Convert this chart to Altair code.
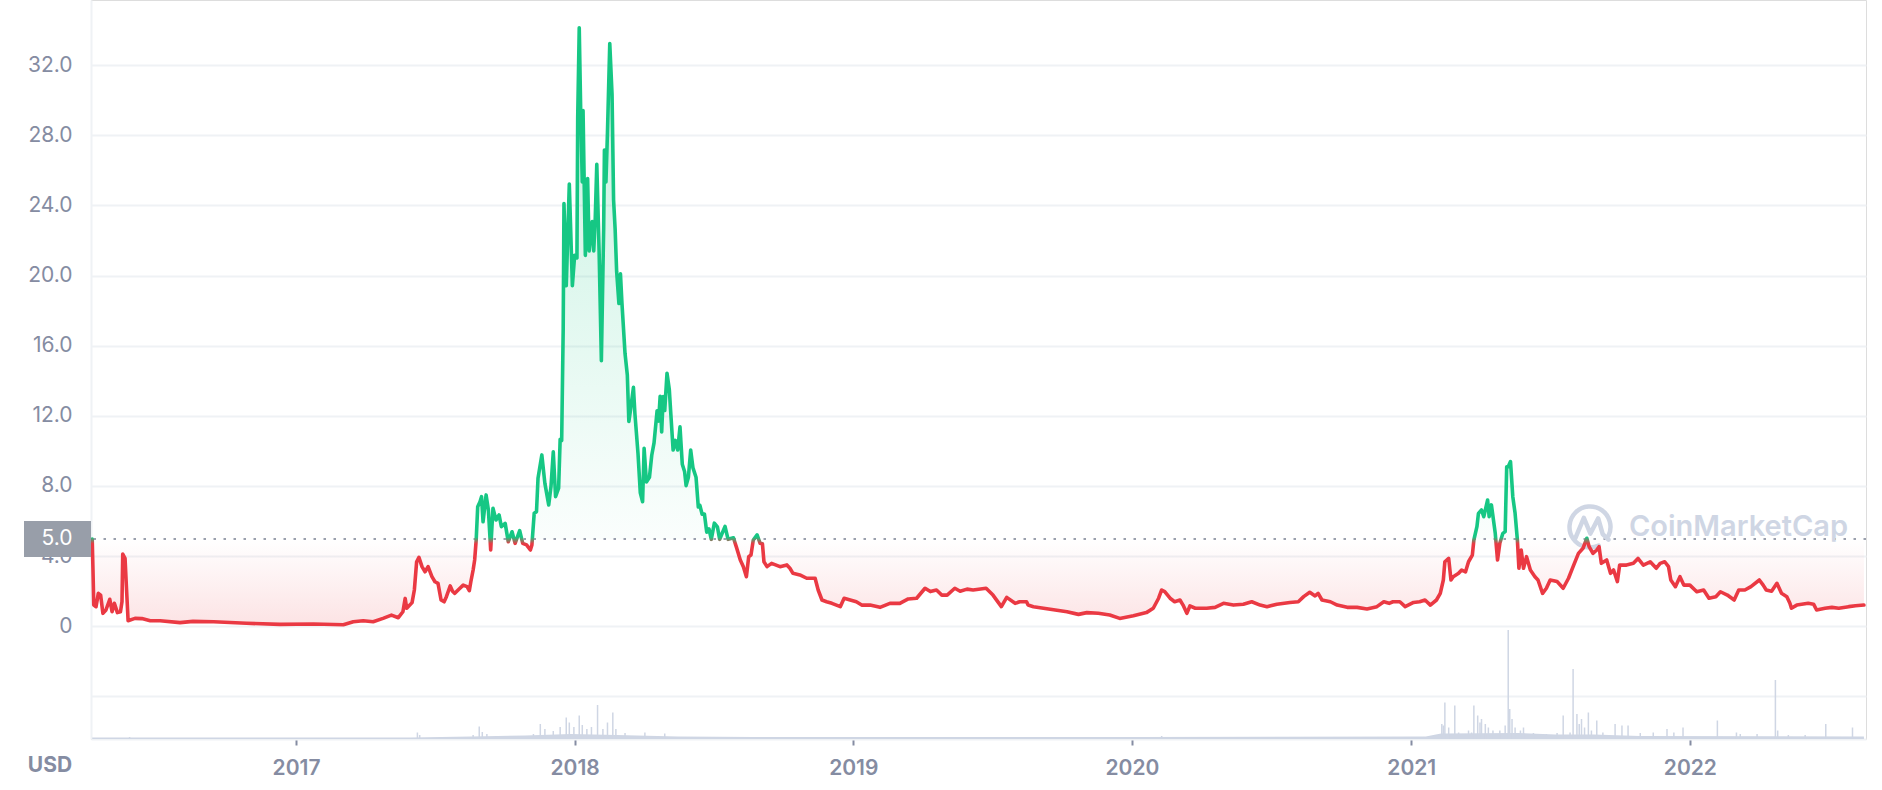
import altair as alt
import pandas as pd

# ---------------- data ----------------
# day offsets relative to 2017-01-01 (negative = 2016)
PRICE_DAYS = [
    -267, -266, -265, -262, -259, -256, -253, -249, -244, -241, -238, -234, -230, -228, -227, -224, -222, -220,
    -211, -202, -191, -178, -152, -135, -108, -65, -21, 23, 62, 75, 88, 101, 114, 125, 134, 140, 143, 145,
    152, 155, 158, 161, 165, 169, 173, 178, 182, 186, 190, 194, 197, 202, 205, 208, 213, 219, 224, 227, 229,
    232, 234, 236, 238, 241, 243, 245, 249, 252, 255, 258, 262, 266, 269, 274, 278, 283, 287, 293, 297, 302,
    307, 309, 312, 315, 317, 322, 326, 331, 334, 337, 340, 344, 346, 348, 350, 351, 354, 358, 362, 365, 368,
    369, 371, 373, 375, 376, 379, 382, 384, 388, 390, 392, 394, 397, 400, 403, 404, 406, 408, 411, 414, 416,
    418, 420, 423, 425, 427, 431, 434, 436, 438, 442, 444, 448, 451, 454, 456, 459, 463, 466, 469, 473, 475,
    477, 479, 481, 483, 486, 489, 491, 494, 497, 500, 503, 506, 509, 511, 514, 517, 520, 524, 527, 529, 532,
    535, 538, 541, 544, 548, 552, 555, 562, 566, 573, 577, 582, 586, 590, 593, 596, 599, 604, 608, 611, 613,
    617, 623, 634, 643, 647, 651, 660, 669, 680, 684, 689, 695, 702, 713, 718, 726, 734, 741, 752, 765, 778,
    791, 802, 813, 824, 831, 839, 846, 853, 863, 870, 879, 887, 904, 913, 924, 931, 942, 948, 957, 959, 966,
    988, 1010, 1025, 1036, 1051, 1066, 1079, 1097, 1114, 1123, 1130, 1134, 1138, 1145, 1151, 1158, 1162,
    1167, 1171, 1178, 1193, 1204, 1215, 1228, 1241, 1252, 1263, 1272, 1285, 1302, 1313, 1320, 1328, 1335,
    1339, 1344, 1355, 1364, 1377, 1390, 1403, 1416, 1425, 1432, 1437, 1446, 1453, 1464, 1472, 1479, 1486,
    1494, 1499, 1503, 1505, 1510, 1513, 1516, 1523, 1527, 1532, 1536, 1541, 1543, 1547, 1549, 1553, 1556,
    1561, 1563, 1566, 1571, 1574, 1577, 1581, 1584, 1586, 1588, 1591, 1594, 1597, 1600, 1602, 1605, 1608,
    1612, 1617, 1623, 1627, 1633, 1638, 1643, 1652, 1660, 1667, 1673, 1680, 1686, 1691, 1694, 1699, 1704,
    1707, 1710, 1717, 1722, 1726, 1731, 1734, 1743, 1752, 1758, 1765, 1774, 1782, 1787, 1793, 1798, 1801,
    1807, 1813, 1818, 1826, 1835, 1844, 1851, 1860, 1866, 1875, 1884, 1890, 1898, 1906, 1917, 1922, 1926,
    1933, 1940, 1946, 1953, 1957, 1959, 1966, 1981, 1988, 1992, 2003, 2012, 2021, 2034, 2043, 2054,
]
PRICE_VALUES = [
    4.98, 3.21, 1.21, 1.12, 1.88, 1.78, 0.74, 0.93, 1.54, 0.83, 1.31, 0.78, 0.83, 1.40, 4.12, 3.88, 2.07, 0.32,
    0.45, 0.44, 0.32, 0.32, 0.21, 0.28, 0.26, 0.17, 0.11, 0.13, 0.09, 0.26, 0.32, 0.26, 0.45, 0.64, 0.49, 0.83, 1.59, 1.03,
    1.35, 2.07, 3.68, 3.93, 3.40, 3.11, 3.40, 2.83, 2.54, 2.45, 1.50, 1.40, 1.69, 2.30, 2.00, 1.88, 2.10, 2.35, 2.26, 2.03, 2.54,
    3.21, 3.78, 4.92, 6.82, 7.10, 7.39, 5.96, 7.49, 6.63, 4.35, 6.73, 6.06, 6.35, 5.68, 5.87, 4.82, 5.39, 4.73, 5.45, 4.73, 4.64,
    4.35, 4.64, 6.44, 6.53, 8.44, 9.77, 8.15, 6.92, 7.97, 9.95, 7.39, 7.88, 10.66, 10.60, 16.97, 24.10, 19.42, 25.22, 19.42, 21.15, 21.00,
    28.99, 34.12, 29.19, 25.33, 29.40, 21.15, 25.53, 21.40, 23.08, 21.40, 23.30, 26.34, 21.45, 15.14, 22.67, 27.15, 25.33, 28.18, 33.22, 30.31, 24.30,
    22.67, 20.23, 18.40, 20.10, 18.40, 15.55, 14.33, 11.68, 12.27, 13.62, 12.09, 9.85, 7.61, 7.10, 10.15, 8.23, 8.50, 9.75, 10.46, 12.29, 11.70,
    13.11, 11.08, 13.10, 12.30, 14.43, 13.50, 12.10, 10.05, 10.60, 10.05, 11.37, 9.24, 8.83, 8.02, 8.50, 10.05, 9.03, 8.50, 6.80, 6.90, 6.39,
    6.40, 5.37, 5.55, 4.96, 5.88, 5.67, 4.96, 5.70, 4.96, 5.05, 4.50, 3.78, 3.40, 2.83, 3.97, 4.06, 4.92, 5.21, 4.73, 4.70, 3.68,
    3.40, 3.59, 3.40, 3.50, 3.31, 3.02, 2.93, 2.74, 2.74, 2.07, 1.50, 1.40, 1.31, 1.12, 1.60, 1.50, 1.40, 1.21, 1.21, 1.08, 1.31,
    1.31, 1.56, 1.60, 2.17, 1.98, 2.07, 1.78, 1.78, 2.17, 2.00, 2.12, 2.07, 2.17, 1.78, 1.12, 1.65, 1.31, 1.40, 1.40, 1.21, 1.12,
    0.97, 0.83, 0.68, 0.78, 0.74, 0.64, 0.45, 0.60, 0.78, 1.03, 1.60, 2.07, 1.98, 1.60, 1.40, 1.50, 1.21,
    0.74, 1.16, 1.03, 1.03, 1.08, 1.31, 1.21, 1.26, 1.40, 1.21, 1.12, 1.26, 1.36, 1.40, 1.69, 1.94, 1.73,
    1.88, 1.50, 1.40, 1.21, 1.08, 1.08, 0.99, 1.12, 1.40, 1.31, 1.40, 1.40, 1.12, 1.36, 1.40, 1.50, 1.21,
    1.50, 1.88, 2.64, 3.68, 3.87, 2.64, 2.83, 3.02, 3.21, 3.10, 3.68, 4.06, 4.92, 5.68, 6.44, 6.63, 6.25,
    7.20, 6.25, 6.92, 5.30, 3.78, 4.73, 5.30, 5.40, 9.10, 9.10, 9.39, 7.39, 6.44, 4.92, 3.31, 4.35, 3.31,
    3.97, 3.21, 2.83, 2.64, 1.88, 2.17, 2.64, 2.55, 2.17, 2.74, 3.40, 4.16, 4.45, 5.02, 4.54, 4.16, 4.35,
    4.54, 3.59, 3.78, 3.02, 3.21, 2.55, 3.49, 3.49, 3.59, 3.87, 3.49, 3.68, 3.31, 3.59, 3.68, 3.40, 2.64,
    2.26, 2.83, 2.35, 2.35, 1.97, 2.07, 1.60, 1.69, 1.97, 1.78, 1.50, 2.07, 2.07, 2.26, 2.64, 2.35, 2.07,
    2.00, 2.45, 1.88, 1.69, 1.31, 1.03, 1.21, 1.31, 1.26, 0.93, 1.03, 1.08, 1.03, 1.12, 1.17, 1.21,
]

# traded volume spikes (million USD) and the low background volume level
VOL_DAYS = [
    -218, 159, 162, 232, 240, 244, 250, 291, 311, 320, 326, 337, 346, 354, 358, 364, 371, 375, 381, 387,
    395, 402, 408, 415, 419, 431, 457, 483, 1134, 1501, 1503, 1505, 1510, 1518, 1523, 1536, 1540, 1543,
    1548, 1551, 1553, 1558, 1562, 1568, 1577, 1584, 1588, 1590, 1593, 1597, 1604, 1608, 1621, 1638, 1652,
    1660, 1669, 1673, 1678, 1681, 1684, 1688, 1693, 1697, 1704, 1712, 1728, 1737, 1745, 1761, 1778, 1796,
    1805, 1817, 1862, 1887, 1892, 1914, 1938, 1941, 1955, 1977, 2004, 2039,
]
VOL_VALUES = [
    4, 13, 8, 8, 25, 14, 10, 6, 10, 30, 20, 16, 24, 43, 33, 24, 47, 28, 20, 24,
    68, 20, 33, 53, 20, 12, 13, 11, 6, 30, 27, 73, 23, 67, 13, 17, 13, 67,
    47, 33, 40, 30, 23, 17, 17, 27, 218, 60, 40, 23, 17, 23, 12, 10, 12,
    47, 13, 140, 50, 30, 40, 23, 53, 17, 37, 13, 30, 27, 27, 12, 13, 20,
    13, 23, 37, 13, 10, 10, 118, 17, 8, 8, 30, 23,
]
VOL_FLOOR_DAYS = [-267, 150, 230, 300, 360, 420, 500, 600, 800, 1100, 1480, 1500, 1600, 1650, 1700, 1760, 2054]
VOL_FLOOR_VALUES = [3, 3, 5, 7, 10, 8, 5, 4, 4, 4, 5, 11, 12, 9, 9, 6, 5]

YEARS = [2017, 2018, 2019, 2020, 2021, 2022]
Y_TICKS = [-4, 0, 4, 8, 12, 16, 20, 24, 28, 32]
X_DOMAIN_DAYS = [-268.6, 2056.7]
Y_DOMAIN = [-6.425, 35.707]
VOL_DOMAIN = [0, 1478]

# ---------------- styles ----------------
GREEN = "#16c784"
RED = "#ea3943"
GREY = "#858ca2"
GRID = "#eff2f5"
VOLC = "#cfd6e4"
FONT = "Inter"

BASE = pd.Timestamp("2017-01-01", tz="UTC")


def ms(d):
    return int((BASE + pd.Timedelta(days=d)).timestamp() * 1000)


THRESHOLD = PRICE_VALUES[0]

price_df = pd.DataFrame({"t": [ms(d) for d in PRICE_DAYS], "price": PRICE_VALUES})
vol_df = pd.DataFrame({"t": [ms(d) for d in VOL_DAYS], "vol": VOL_VALUES})
floor_df = pd.DataFrame({"t": [ms(d) for d in VOL_FLOOR_DAYS], "vol": VOL_FLOOR_VALUES})
one = pd.DataFrame({"k": [0]})

x_axis = alt.Axis(
    values=[alt.DateTime(year=y, month=1, date=1, utc=True) for y in YEARS],
    labelExpr="utcFormat(datum.value, '%Y')",
    grid=False, domainColor=GRID, domainWidth=2,
    tickColor=GREY, tickSize=6, tickWidth=2,
    labelFont=FONT, labelFontSize=21, labelFontWeight=600, labelColor=GREY,
    labelPadding=12, title=None,
)
x_scale = alt.Scale(type="utc", domain=[ms(X_DOMAIN_DAYS[0]), ms(X_DOMAIN_DAYS[1])])
X = alt.X("t:T", scale=x_scale, axis=x_axis)

y_axis = alt.Axis(
    values=Y_TICKS, orient="left",
    labelExpr="datum.value < 0 ? '' : (datum.value == 0 ? '0' : format(datum.value, '.1f'))",
    grid=True, gridColor=GRID, gridWidth=2,
    domain=True, domainColor=GRID, domainWidth=2, ticks=False,
    labelFont=FONT, labelFontSize=21, labelColor=GREY, labelPadding=19, title=None,
)
y_scale = alt.Scale(domain=Y_DOMAIN, nice=False, zero=False)


def Y(field):
    return alt.Y(field, scale=y_scale, axis=y_axis)


# ---------------- volume ----------------
v_scale = alt.Scale(domain=VOL_DOMAIN, nice=False)
floor = alt.Chart(floor_df).mark_area(color=VOLC).encode(
    x=X, y=alt.Y("vol:Q", scale=v_scale, axis=None)
)
spikes = alt.Chart(vol_df).mark_rule(color=VOLC, strokeWidth=1.5).encode(
    x=X, y=alt.Y("vol:Q", scale=v_scale, axis=None), y2=alt.datum(0)
)
volume = alt.layer(floor, spikes)

# ---------------- price ----------------
pmax, pmin = max(PRICE_VALUES), min(PRICE_VALUES)
f = (pmax - THRESHOLD) / (pmax - pmin)

green_fill = alt.Gradient(
    gradient="linear", x1=0, x2=0, y1=0, y2=1,
    stops=[alt.GradientStop(color="rgba(22,199,132,0.26)", offset=0),
           alt.GradientStop(color="rgba(22,199,132,0.02)", offset=1)],
)
red_fill = alt.Gradient(
    gradient="linear", x1=0, x2=0, y1=0, y2=1,
    stops=[alt.GradientStop(color="rgba(234,57,67,0.0)", offset=0),
           alt.GradientStop(color="rgba(234,57,67,0.14)", offset=1)],
)
line_stroke = alt.Gradient(
    gradient="linear", x1=0, x2=0, y1=0, y2=1,
    stops=[alt.GradientStop(color=GREEN, offset=0),
           alt.GradientStop(color=GREEN, offset=f - 0.003),
           alt.GradientStop(color=RED, offset=min(f + 0.008, 1)),
           alt.GradientStop(color=RED, offset=1)],
)

green_area = alt.Chart(price_df).transform_calculate(
    top=f"max(datum.price, {THRESHOLD})"
).mark_area(fill=green_fill).encode(x=X, y=Y("top:Q"), y2=alt.datum(THRESHOLD))

red_area = alt.Chart(price_df).transform_calculate(
    bot=f"min(datum.price, {THRESHOLD})"
).mark_area(fill=red_fill).encode(x=X, y=Y("bot:Q"), y2=alt.datum(THRESHOLD))

threshold_rule = alt.Chart(one).mark_rule(
    stroke="#9aa0ad", strokeWidth=2, strokeDash=[2.5, 7.5]
).encode(y=alt.Y(datum=THRESHOLD, scale=y_scale, axis=y_axis))

LOGO = ("M 0.423 0.906 A 1 1 0 1 1 0.906 0.423 "
        "M -0.72 0.55 L -0.3 -0.45 L 0.02 0.32 L 0.4 -0.42 L 0.62 0.35 L 0.9 0.62")
logo = alt.Chart(one).mark_point(
    shape=LOGO, size=1681, filled=False, stroke=VOLC, strokeWidth=4.5, opacity=1,
    strokeCap="round", strokeJoin="round",
).encode(x=alt.value(1499), y=alt.value(527))
logo_text = alt.Chart(one).mark_text(
    text="CoinMarketCap", align="left", baseline="middle", font=FONT,
    fontSize=29, fontWeight=600, color=VOLC,
).encode(x=alt.value(1538), y=alt.value(527))

line = alt.Chart(price_df).mark_line(
    stroke=line_stroke, strokeWidth=3.6, strokeJoin="round", strokeCap="round"
).encode(x=X, y=Y("price:Q"))

box = alt.Chart(one).mark_rect(color="#989ea9", yOffset=-18, y2Offset=18).encode(
    x=alt.value(-67), x2=alt.value(0),
    y=alt.Y(datum=THRESHOLD, scale=y_scale, axis=y_axis), y2=alt.datum(THRESHOLD),
)
box_text = alt.Chart(one).mark_text(
    color="white", font=FONT, fontSize=21, align="center", baseline="middle"
).encode(
    x=alt.value(-34), y=alt.Y(datum=THRESHOLD, scale=y_scale, axis=y_axis),
    text=alt.value(f"{THRESHOLD:.1f}"),
)
usd = alt.Chart(one).mark_text(
    color=GREY, font=FONT, fontSize=21, fontWeight=700, align="center", baseline="middle"
).encode(x=alt.value(-41), y=alt.value(766), text=alt.value("USD"))

price = alt.layer(green_area, red_area, threshold_rule, logo, logo_text, line, box, box_text, usd)

chart = alt.layer(volume, price).resolve_scale(y="independent").properties(
    width=1775, height=739,
    autosize=alt.AutoSizeParams(type="none"),
    padding={"left": 91, "top": 0, "right": 16, "bottom": 51},
).configure_view(stroke=None).configure(background="white", font=FONT)

chart.save("out.html", embed_options={"renderer": "svg", "actions": False})
